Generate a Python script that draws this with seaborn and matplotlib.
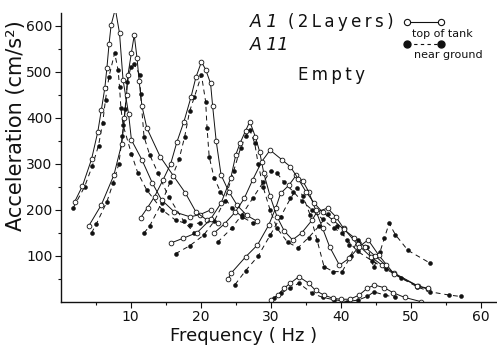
import matplotlib
matplotlib.use("Agg")
import matplotlib.pyplot as plt
import seaborn as sns
import pandas as pd
from matplotlib.lines import Line2D

# ---- data: (frequency Hz, acceleration cm/s^2) ----
A_top_f = [2.0, 3.1, 4.4, 5.3, 5.8, 6.3, 6.6, 6.9, 7.2, 7.8, 8.4, 8.9, 9.7, 10.1, 11.6, 13.1, 14.4, 16.2, 18.5, 19.9, 21.4]
A_top_v = [218, 252, 310, 370, 417, 465, 509, 560, 602, 637, 584, 483, 408, 352, 309, 258, 222, 196, 185, 190, 200]
A_gnd_f = [1.8, 3.4, 4.5, 5.4, 6.0, 6.4, 6.9, 7.7, 8.2, 8.4, 8.6, 8.9, 10.1, 11.0, 12.3, 14.5, 16.4, 18.4, 19.9]
A_gnd_v = [205, 250, 295, 340, 390, 440, 490, 541, 504, 467, 421, 385, 322, 281, 243, 200, 178, 168, 172]

B_top_f = [4.0, 5.8, 7.6, 8.7, 9.1, 9.4, 9.6, 10.1, 10.5, 10.9, 11.2, 11.6, 12.3, 14.2, 16.1, 17.8, 19.3, 20.9, 22.4]
B_top_v = [165, 211, 276, 343, 400, 450, 493, 542, 580, 530, 480, 426, 378, 316, 274, 237, 196, 178, 172]
B_gnd_f = [4.4, 5.1, 6.6, 7.5, 8.3, 8.8, 9.2, 9.5, 10.0, 10.5, 11.3, 11.4, 11.9, 12.7, 13.9, 15.4, 17.6, 19.1]
B_gnd_v = [150, 170, 218, 259, 300, 360, 420, 477, 510, 517, 493, 452, 359, 320, 280, 229, 175, 150]

C_top_f = [11.4, 12.4, 13.4, 14.6, 15.7, 16.6, 17.6, 18.6, 19.3, 20.1, 20.7, 21.4, 21.7, 22.2, 22.9, 24.0, 25.2, 26.6, 28.1]
C_top_v = [183, 205, 229, 265, 300, 348, 392, 445, 488, 522, 505, 475, 425, 350, 276, 240, 210, 188, 175]
C_gnd_f = [11.9, 12.7, 14.4, 15.6, 16.9, 17.7, 18.4, 19.1, 20.1, 20.7, 20.9, 21.2, 21.9, 22.8, 24.4, 25.9, 27.4]
C_gnd_v = [150, 165, 215, 260, 310, 359, 414, 446, 493, 435, 378, 316, 270, 240, 205, 185, 172]

D_top_f = [15.7, 17.4, 19.5, 21.4, 22.9, 24.3, 25.0, 25.6, 26.4, 27.0, 27.8, 28.4, 29.0, 29.9, 30.9, 31.9, 33.1, 34.4, 35.9, 36.6, 38.1, 39.3, 40.4, 42.4, 44.3, 45.9, 47.6, 51.0, 52.4]
D_top_v = [128, 138, 151, 180, 215, 270, 320, 345, 372, 392, 359, 327, 280, 230, 185, 155, 135, 150, 178, 196, 204, 185, 160, 125, 98, 80, 63, 35, 28]
D_gnd_f = [16.4, 18.4, 20.4, 21.9, 23.4, 24.7, 25.7, 26.4, 27.0, 27.7, 28.2, 28.9, 29.9, 30.9, 32.4, 33.9, 35.4, 36.9, 38.2, 39.4, 40.9, 42.4, 44.4, 46.4, 48.6, 50.9, 52.8, 55.5, 57.1]
D_gnd_v = [105, 122, 145, 175, 220, 285, 335, 360, 374, 345, 300, 250, 200, 160, 130, 118, 140, 165, 192, 165, 135, 110, 90, 72, 52, 33, 22, 15, 12]

E_top_f = [23.9, 24.3, 26.4, 28.1, 29.7, 30.7, 31.4, 32.6, 33.6, 34.6, 35.4, 36.4, 37.4, 38.4, 39.8, 41.2, 42.6, 43.9, 45.4, 47.6, 50.9, 52.4]
E_top_v = [50, 62, 98, 124, 167, 204, 236, 254, 275, 262, 240, 200, 160, 120, 80, 95, 120, 135, 102, 61, 35, 30]
E_gnd_f = [24.9, 26.4, 28.2, 29.9, 31.4, 32.8, 33.8, 34.6, 35.6, 36.6, 37.6, 38.9, 40.2, 41.4, 42.4, 43.8, 44.7, 45.6, 46.2, 46.9, 47.8, 49.6, 52.8]
E_gnd_v = [38, 68, 100, 145, 185, 225, 248, 230, 190, 135, 77, 66, 66, 100, 135, 120, 75, 109, 138, 171, 146, 112, 84]

F_top_f = [21.9, 23.4, 24.9, 26.2, 27.4, 28.7, 29.9, 31.6, 32.8, 33.9, 35.0, 36.2, 37.4, 38.9, 40.4, 41.9, 43.4, 44.9, 46.4]
F_top_v = [150, 170, 195, 225, 265, 305, 330, 309, 294, 268, 240, 215, 195, 178, 158, 140, 120, 100, 80]
F_gnd_f = [22.4, 24.4, 25.9, 27.4, 28.9, 30.0, 30.9, 31.9, 33.2, 34.4, 35.9, 37.4, 39.0, 40.2, 41.2]
F_gnd_v = [130, 160, 190, 225, 260, 285, 280, 260, 240, 220, 200, 180, 160, 150, 124]

S_top_f = [30.0, 31.0, 31.9, 32.8, 34.0, 35.4, 36.4, 37.6, 38.9, 40.0, 41.3, 42.6, 43.8, 44.8, 46.2, 47.5, 49.1, 51.4]
S_top_v = [4, 15, 30, 41, 55, 41, 25, 15, 8, 6, 6, 15, 30, 37, 31, 20, 10, 1]
S_gnd_f = [30.4, 31.4, 32.8, 34.0, 35.9, 37.4, 39.0, 40.9, 42.4, 43.8, 44.7, 46.3, 47.8]
S_gnd_v = [8, 19, 30, 41, 19, 10, 5, 1, 4, 12, 22, 15, 10]

top_curves = [(A_top_f, A_top_v), (B_top_f, B_top_v), (C_top_f, C_top_v), (D_top_f, D_top_v),
              (E_top_f, E_top_v), (F_top_f, F_top_v), (S_top_f, S_top_v)]
gnd_curves = [(A_gnd_f, A_gnd_v), (B_gnd_f, B_gnd_v), (C_gnd_f, C_gnd_v), (D_gnd_f, D_gnd_v),
              (E_gnd_f, E_gnd_v), (F_gnd_f, F_gnd_v), (S_gnd_f, S_gnd_v)]

x_ticks = [10, 20, 30, 40, 50, 60]
y_ticks = [100, 200, 300, 400, 500, 600]

sns.set_style("ticks")
plt.rcParams["font.family"] = ["DejaVu Sans"]

fig = plt.figure(figsize=(4.97, 3.48), dpi=100)
ax = fig.add_axes([60.7 / 497, 46 / 348, 436.3 / 497, 289 / 348])

ink = "#111111"
dash = (0, (5, 4))

for f, v in gnd_curves:
    sns.lineplot(x=f, y=v, ax=ax, sort=False, estimator=None, color=ink, lw=0.7,
                 linestyle=dash, marker="o", markersize=2.8, markerfacecolor=ink,
                 markeredgecolor=ink, markeredgewidth=0.4)
for f, v in top_curves:
    sns.lineplot(x=f, y=v, ax=ax, sort=False, estimator=None, color=ink, lw=0.7,
                 linestyle="-", marker="o", markersize=3.4, markerfacecolor="white",
                 markeredgecolor=ink, markeredgewidth=0.6)

ax.set_xlim(0, 62.3)
ax.set_ylim(0, 628)
ax.set_xticks(x_ticks)
ax.set_yticks(y_ticks)
ax.set_xticks([5, 15, 25, 35, 45, 55], minor=True)
ax.set_yticks([50, 150, 250, 350, 450, 550], minor=True)
ax.tick_params(axis="both", which="major", direction="out", length=4, width=0.8,
               labelsize=10, colors=ink)
ax.tick_params(axis="x", which="major", pad=2)
ax.tick_params(axis="y", which="major", pad=2)
ax.tick_params(axis="both", which="minor", direction="out", length=2, width=0.8, colors=ink)
sns.despine(ax=ax)
for s in ("left", "bottom"):
    ax.spines[s].set_linewidth(1.0)
    ax.spines[s].set_color(ink)

ax.set_xlabel("Frequency ( Hz )", fontsize=13, color=ink, va="center")
ax.xaxis.set_label_coords(0.419, -0.118)
ax.set_ylabel("Acceleration (cm/s²)", fontsize=15, color=ink, va="center")
ax.yaxis.set_label_coords(-0.1025, 0.609)

ts = "\u2009"
# annotations
ax.text(0.434, 0.969, "A 1", transform=ax.transAxes, fontsize=12.5, style="italic",
        ha="left", va="center", color=ink)
ax.text(0.52, 0.969, ts.join("(2Layers)"), transform=ax.transAxes, fontsize=12,
        ha="left", va="center", color=ink)
ax.text(0.434, 0.889, "A 11", transform=ax.transAxes, fontsize=12.5, style="italic",
        ha="left", va="center", color=ink)
ax.text(0.544, 0.785, ts.join("Empty"), transform=ax.transAxes, fontsize=12,
        ha="left", va="center", color=ink)

# legend keys
h_top = Line2D([], [], color=ink, lw=0.8, marker="o", markersize=4.5,
               markerfacecolor="white", markeredgecolor=ink, markeredgewidth=0.8)
h_gnd = Line2D([], [], color=ink, lw=0.8, linestyle=(0, (3, 3)), marker="o", markersize=5,
               markerfacecolor=ink, markeredgecolor=ink)
leg1 = ax.legend(handles=[h_top], labels=[""], loc="center left",
                 bbox_to_anchor=((404 - 60.7) / 436.3, (302 - 23) / 289),
                 frameon=False, numpoints=2, handlelength=3.6, fontsize=8,
                 borderpad=0, borderaxespad=0, handletextpad=0)
ax.add_artist(leg1)
ax.legend(handles=[h_gnd], labels=[""], loc="center left",
          bbox_to_anchor=((404 - 60.7) / 436.3, (302 - 45) / 289),
          frameon=False, numpoints=2, handlelength=3.6, fontsize=8,
          borderpad=0, borderaxespad=0, handletextpad=0)
ax.text((442 - 60.7) / 436.3, (302 - 34) / 289, "top of tank", transform=ax.transAxes,
        fontsize=8, ha="center", va="center", color=ink)
ax.text((448 - 60.7) / 436.3, (302 - 55) / 289, "near ground", transform=ax.transAxes,
        fontsize=8, ha="center", va="center", color=ink)

fig.savefig("out.png", dpi=100)
